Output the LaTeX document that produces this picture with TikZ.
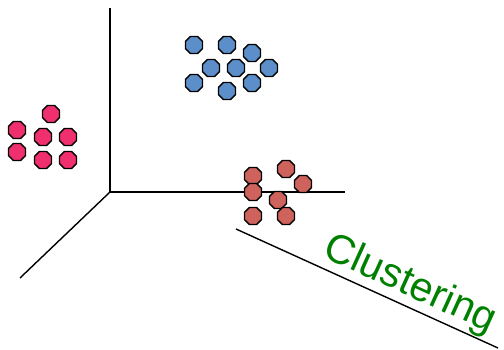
\documentclass[tikz,border=0pt]{standalone}
\usepackage{fontspec}
\setmainfont{Liberation Sans}
\usetikzlibrary{shapes.geometric}
\definecolor{ptblue}{RGB}{92,143,202}
\definecolor{ptpink}{RGB}{240,48,110}
\definecolor{ptred}{RGB}{206,98,92}
\definecolor{labelgreen}{RGB}{0,128,0}
\tikzset{
  pt/.style={regular polygon, regular polygon sides=8, minimum size=18.5pt,
    inner sep=0pt, draw=black, line width=1.3pt},
  bluept/.style={pt, fill=ptblue},
  pinkpt/.style={pt, fill=ptpink},
  redpt/.style={pt, fill=ptred},
  axis/.style={draw=black, line width=1.4pt},
}
\begin{document}
\begin{tikzpicture}[x=1pt,y=-1pt]
  \useasboundingbox (0,0) rectangle (504,350);
  % three axes from a common origin
  \coordinate (o) at (110,192);
  \coordinate (ytop) at (110,8);
  \coordinate (xend) at (345,192);
  \coordinate (zend) at (20,278);
  \draw[axis] (o) -- (ytop);
  \draw[axis] (o) -- (xend);
  \draw[axis] (o) -- (zend);
  % blue group
  \node[bluept] (b1) at (194,45) {};
  \node[bluept] (b2) at (227,45) {};
  \node[bluept] (b3) at (252,53) {};
  \node[bluept] (b4) at (211,68) {};
  \node[bluept] (b5) at (236,68) {};
  \node[bluept] (b6) at (269,68) {};
  \node[bluept] (b7) at (194,83) {};
  \node[bluept] (b8) at (227,91) {};
  \node[bluept] (b9) at (252,83) {};
  % pink group
  \node[pinkpt] (p1) at (51,114) {};
  \node[pinkpt] (p2) at (17,130) {};
  \node[pinkpt] (p3) at (43,137) {};
  \node[pinkpt] (p4) at (68,137) {};
  \node[pinkpt] (p5) at (17,152) {};
  \node[pinkpt] (p6) at (43,160) {};
  \node[pinkpt] (p7) at (68,160) {};
  % red group
  \node[redpt] (r1) at (286,169) {};
  \node[redpt] (r2) at (253,176) {};
  \node[redpt] (r3) at (303,184) {};
  \node[redpt] (r4) at (253,192) {};
  \node[redpt] (r5) at (278,200) {};
  \node[redpt] (r6) at (253,216) {};
  \node[redpt] (r7) at (286,216) {};
  % label with its underline
  \coordinate (ls) at (236,229);
  \coordinate (le) at (498,348);
  \draw[axis] (ls) -- (le);
  \node[text=labelgreen, font=\fontsize{41}{45}\selectfont, rotate=-24.4,
    inner sep=0pt] (lab) at (410,285) {Clustering};
\end{tikzpicture}
\end{document}
